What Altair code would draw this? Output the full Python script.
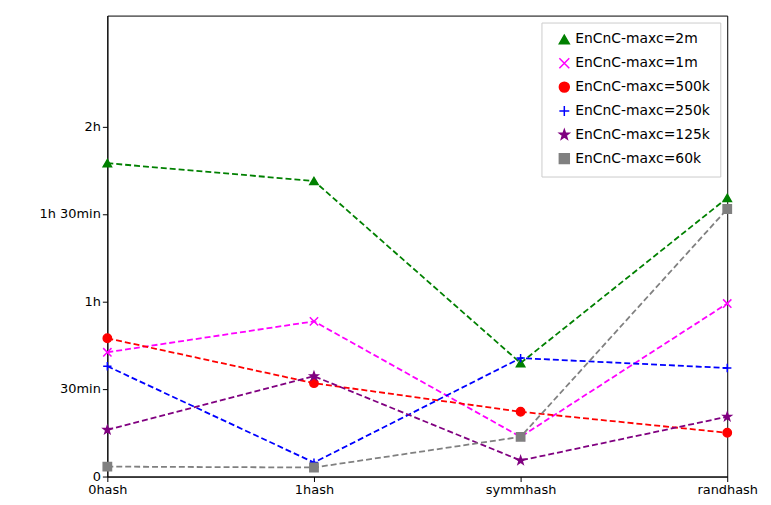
import altair as alt
import pandas as pd

methods = ["0hash", "1hash", "symmhash", "randhash"]
series = ["EnCnC-maxc=2m", "EnCnC-maxc=1m", "EnCnC-maxc=500k",
          "EnCnC-maxc=250k", "EnCnC-maxc=125k", "EnCnC-maxc=60k"]
# runtime in minutes
v_2m = [107.4, 101.3, 38.9, 95.5]
v_1m = [42.6, 53.2, 13.6, 59.3]
v_500k = [47.4, 32.0, 22.2, 15.0]
v_250k = [37.8, 4.8, 40.6, 37.2]
v_125k = [16.0, 34.4, 5.5, 20.5]
v_60k = [3.4, 3.1, 13.6, 91.7]

colors = ["green", "magenta", "red", "blue", "purple", "gray"]
star = ("M0,-1L0.235,-0.324L0.951,-0.309L0.38,0.124L0.588,0.809L0,0.4"
        "L-0.588,0.809L-0.38,0.124L-0.951,-0.309L-0.235,-0.324Z")
shapes = ["triangle-up", "M-1,-1L1,1M1,-1L-1,1", "circle",
          "M-1,0L1,0M0,-1L0,1", star, "square"]

rows = []
for name, vals in zip(series, [v_2m, v_1m, v_500k, v_250k, v_125k, v_60k]):
    for m, v in zip(methods, vals):
        rows.append({"method": m, "series": name, "minutes": v})
df = pd.DataFrame(rows)

x = alt.X("method:N", sort=methods, title=None,
          scale=alt.Scale(type="point", padding=0),
          axis=alt.Axis(labelAngle=0, labelFontSize=13, labelColor="black",
                        tickColor="black", domainColor="black", grid=False))
y = alt.Y("minutes:Q", title=None,
          scale=alt.Scale(domain=[0, 158], nice=False, zero=True),
          axis=alt.Axis(values=[0, 30, 60, 90, 120], grid=False, labelFontSize=13,
                        labelColor="black", tickColor="black", domainColor="black",
                        labelExpr="datum.value == 0 ? '0' : datum.value == 30 ? '30min' : datum.value == 60 ? '1h' : datum.value == 90 ? '1h 30min' : '2h'"))
cscale = alt.Scale(domain=series, range=colors)
legend = alt.Legend(orient="top-right", labelFontSize=14, symbolSize=100,
                    fillColor="white", strokeColor="#ccc", padding=10,
                    rowPadding=8, labelLimit=300, offset=7, symbolOffset=6)

lines = alt.Chart(df).mark_line(strokeDash=[6, 3], strokeWidth=1.8).encode(
    x=x, y=y, color=alt.Color("series:N", scale=cscale, title=None, legend=legend))

points = alt.Chart(df).mark_point(filled=True, size=70, strokeWidth=1.5, opacity=1).encode(
    x=x, y=y,
    color=alt.Color("series:N", scale=cscale, title=None, legend=legend),
    stroke=alt.Stroke("series:N", scale=cscale, title=None, legend=legend),
    shape=alt.Shape("series:N", scale=alt.Scale(domain=series, range=shapes),
                    title=None, legend=legend),
)

chart = (lines + points).properties(
    width=624, height=464, padding={"left": 31, "top": 6, "right": 5, "bottom": 5}
).configure(font="DejaVu Sans").configure_view(stroke="black")
chart.save("out.html", embed_options={"renderer": "svg", "actions": False})
